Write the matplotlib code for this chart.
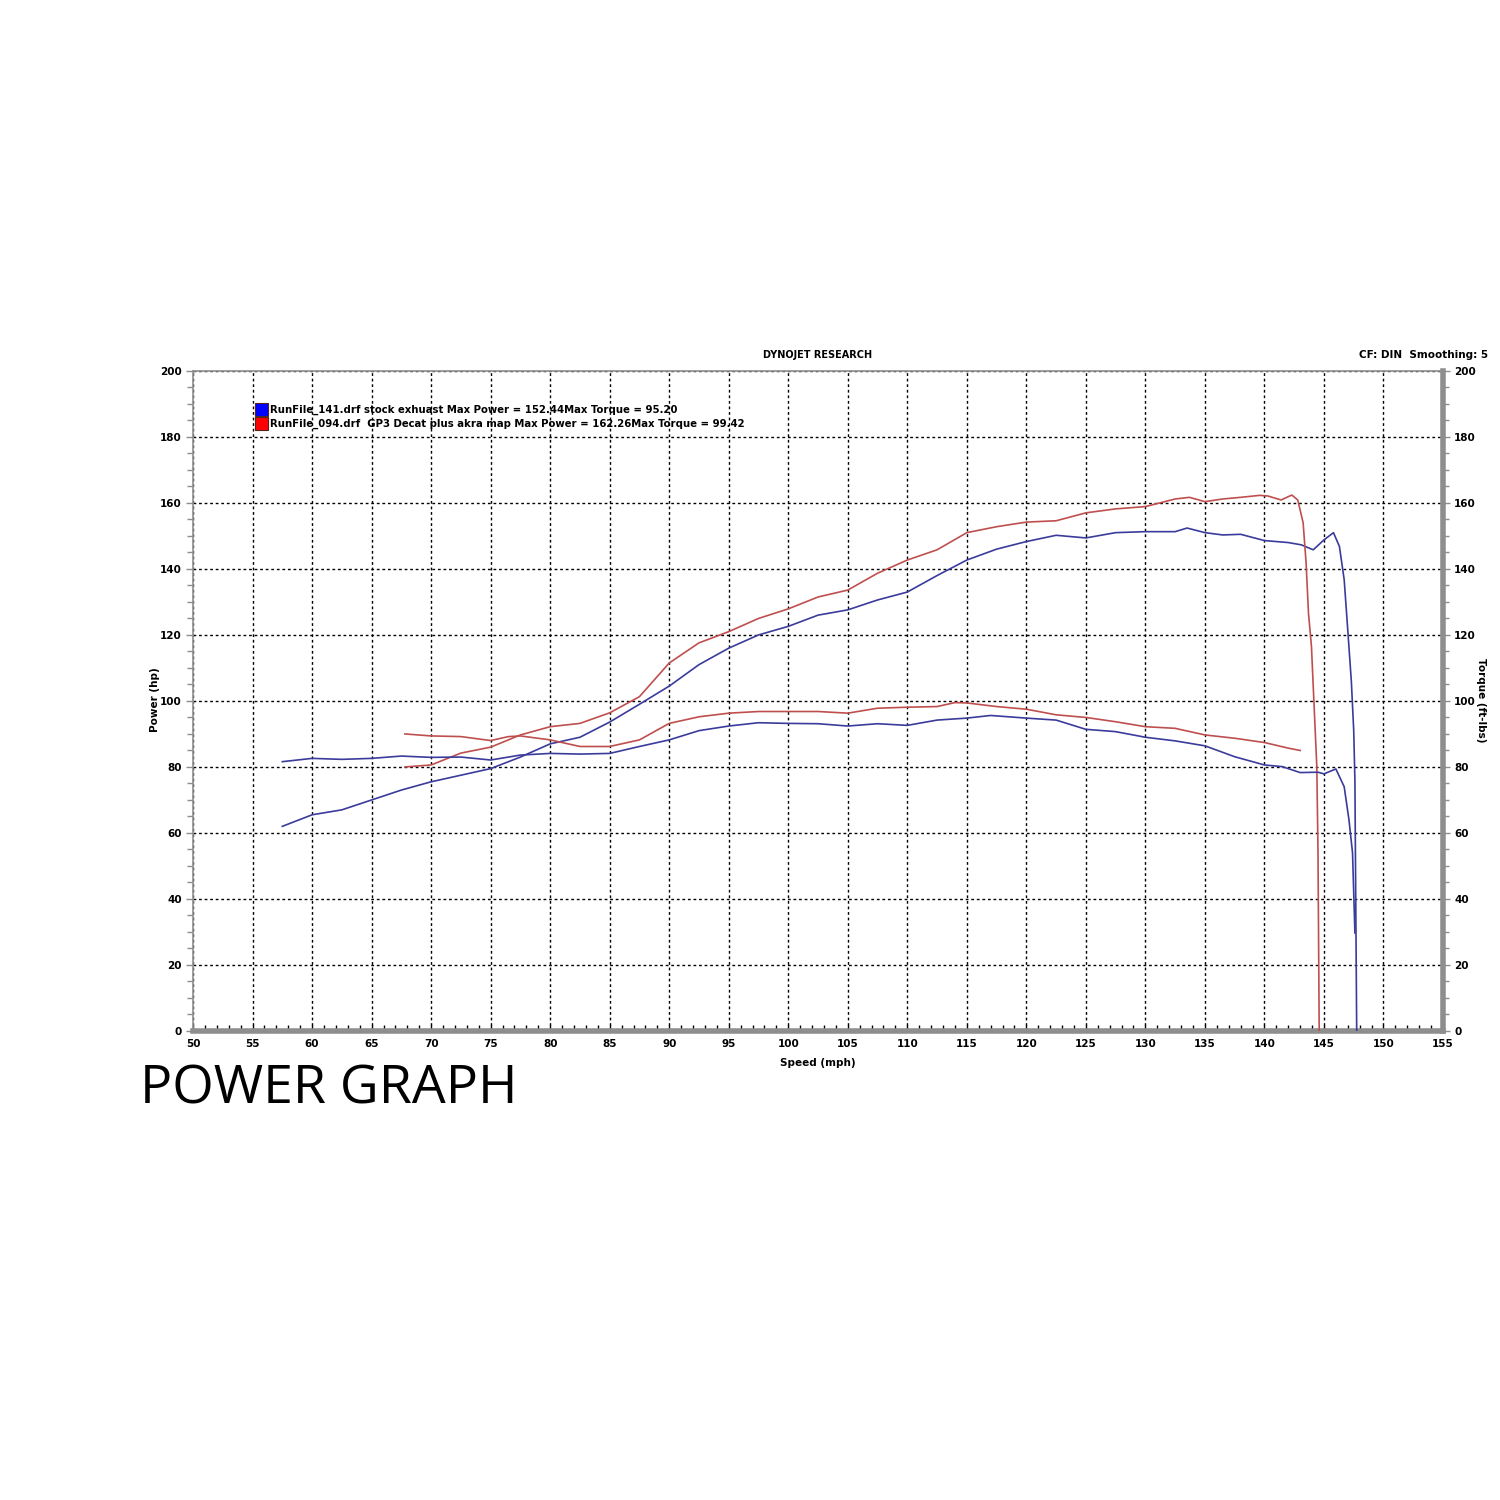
"""
Dynojet power / torque comparison: stock exhaust vs GP3 decat.
"""

import matplotlib
matplotlib.use("Agg")
import matplotlib.pyplot as plt
from matplotlib.patches import Rectangle
from matplotlib.ticker import MultipleLocator

# stock exhaust run (blue)
stock_power_mph = [57.5, 60, 62.5, 65, 67.5, 70, 72.5, 75, 77.5, 80, 82.5, 85, 87.5, 90, 92.5, 95,
                   97.5, 100, 102.5, 105, 107.5, 110, 112.5, 115, 117.5, 120, 122.5, 125, 127.5, 130,
                   132.5, 133.5, 135, 136.5, 138, 140, 142, 143.1, 144.1, 145.0, 145.8, 146.3, 146.7,
                   147.0, 147.3, 147.5, 147.6, 147.65, 147.75]
stock_power_hp = [62, 65.5, 67, 70, 73, 75.5, 77.5, 79.5, 83, 87, 89, 93.6, 99, 104.5, 111, 116,
                  120, 122.6, 126, 127.6, 130.6, 133, 138, 142.7, 146, 148.3, 150.2, 149.4, 151, 151.3,
                  151.3, 152.4, 151, 150.3, 150.5, 148.6, 148, 147.3, 145.8, 148.8, 151, 146.8, 136.7,
                  121.5, 106, 91, 76, 50, 0]

stock_torque_mph = [57.5, 60, 62.5, 65, 67.5, 70, 72.5, 75, 77.5, 80, 82.5, 85, 87.5, 90, 92.5, 95,
                    97.5, 100, 102.5, 105, 107.5, 110, 112.5, 115, 117, 120, 122.5, 125, 127.5, 130,
                    132.5, 135, 137.5, 140, 141.5, 143, 144.5, 145, 146, 146.7, 147.1, 147.4, 147.6]
stock_torque_ft = [81.6, 82.6, 82.3, 82.6, 83.3, 82.9, 83, 82.1, 83.6, 84.1, 83.9, 84.1, 86.2, 88.2,
                   91, 92.4, 93.4, 93.2, 93.1, 92.4, 93.1, 92.6, 94.2, 94.8, 95.6, 94.8, 94.2, 91.4,
                   90.7, 89, 87.9, 86.4, 83.1, 80.6, 80.1, 78.3, 78.4, 77.9, 79.4, 74, 64, 54, 29.7]

# GP3 decat + akra map run (red)
gp3_power_mph = [67.8, 70, 72.5, 75, 77.5, 80, 82.5, 85, 87.5, 90, 92.5, 95, 97.5, 100, 102.5, 105,
                 107.5, 110, 112.5, 115, 117.5, 120, 122.5, 125, 127.5, 130, 132.5, 133.7, 135, 136.5,
                 138, 139.6, 140.3, 141.4, 142.3, 142.8, 143.25, 143.5, 143.7, 143.95, 144.2, 144.4,
                 144.5, 144.6]
gp3_power_hp = [80, 80.6, 84.2, 86, 89.7, 92.2, 93.2, 96.4, 101.3, 111.5, 117.6, 121, 125, 127.9,
                131.5, 133.6, 138.7, 142.7, 145.8, 151, 152.8, 154.2, 154.6, 157, 158.2, 158.9, 161.2,
                161.7, 160.4, 161.2, 161.7, 162.3, 162.1, 160.9, 162.4, 160.9, 154, 141.8, 126.6,
                116.5, 96.3, 80, 54, 0]

gp3_torque_mph = [67.8, 70, 72.5, 75, 76.5, 77.5, 80, 82.5, 85, 87.5, 90, 92.5, 95, 97.5, 100, 102.5,
                  105, 107.5, 110, 112.5, 114, 115, 117.5, 120, 122.5, 125, 127.5, 130, 132.5, 135,
                  137.5, 140, 142, 143]
gp3_torque_ft = [90, 89.4, 89.2, 88, 89.2, 89.4, 88.2, 86.2, 86.2, 88.2, 93.2, 95.2, 96.3, 96.8, 96.8,
                 96.8, 96.3, 97.8, 98.1, 98.3, 99.5, 99.4, 98.3, 97.5, 95.8, 95, 93.7, 92.2, 91.7,
                 89.7, 88.7, 87.4, 85.7, 85]

legend_labels = ["RunFile_141.drf stock exhuast Max Power = 152.44Max Torque = 95.20",
                 "RunFile_094.drf  GP3 Decat plus akra map Max Power = 162.26Max Torque = 99.42"]

BLUE = '#3b3b9c'
RED = '#bf4f4f'
FRAME = '#8e8e8e'

plt.rcParams['font.family'] = ['DejaVu Sans']

fig = plt.figure(figsize=(15, 15), dpi=100)
fig.patch.set_facecolor('white')
ax = fig.add_axes([0.1287, 0.3127, 0.8333, 0.44])

ax.plot(stock_power_mph, stock_power_hp, color=BLUE, lw=1.2, zorder=3)
ax.plot(gp3_power_mph, gp3_power_hp, color=RED, lw=1.2, zorder=3)
ax.plot(stock_torque_mph, stock_torque_ft, color=BLUE, lw=1.2, zorder=3)
ax.plot(gp3_torque_mph, gp3_torque_ft, color=RED, lw=1.2, zorder=3)

ax.set_xlim(50, 155)
ax.set_ylim(0, 200)
ax.xaxis.set_major_locator(MultipleLocator(5))
ax.xaxis.set_minor_locator(MultipleLocator(1))
ax.yaxis.set_major_locator(MultipleLocator(20))
ax.yaxis.set_minor_locator(MultipleLocator(5))
ax.grid(True, which='major', color='black', linestyle=(0, (2, 2)), lw=1.0)

ax.tick_params(axis='x', which='both', direction='in', color='black', width=1, pad=6, length=4)
ax.tick_params(axis='y', which='both', direction='out', color=FRAME, width=1,
               right=True, labelright=True, pad=3)
ax.tick_params(axis='y', which='major', length=5)
ax.tick_params(axis='y', which='minor', length=4)
for lbl in ax.get_xticklabels() + ax.get_yticklabels():
    lbl.set_fontsize(7.5)
    lbl.set_fontweight('bold')

for side in ['left', 'top']:
    ax.spines[side].set_color(FRAME)
    ax.spines[side].set_linewidth(1.2)
for side in ['bottom', 'right']:
    ax.spines[side].set_color(FRAME)
    ax.spines[side].set_linewidth(4)

ax.set_xlabel('Speed (mph)', fontsize=7.5, fontweight='bold', labelpad=6)
fig.text(155 / 1500, 1 - 700 / 1500, 'Power (hp)', fontsize=7.5, fontweight='bold',
         rotation=90, ha='center', va='center')
fig.text(1481 / 1500, 1 - 700 / 1500, 'Torque (ft-lbs)', fontsize=7.5, fontweight='bold',
         rotation=-90, ha='center', va='center')

fig.text(0.545, 0.763, 'DYNOJET RESEARCH', fontsize=7, fontweight='bold', ha='center', va='center')
fig.text(0.992, 0.763, 'CF: DIN  Smoothing: 5', fontsize=7.5, fontweight='bold',
         ha='right', va='center')

# legend swatches
for i, (color, label) in enumerate(zip(['#0000ff', '#ff0000'], legend_labels)):
    top = 1 - (403 + i * 14) / 1500
    fig.patches.append(Rectangle((255 / 1500, top - 13 / 1500), 13 / 1500, 13 / 1500,
                                 transform=fig.transFigure, facecolor=color,
                                 edgecolor='#552222', lw=0.8, zorder=5))
    fig.text(270 / 1500, top - 6.5 / 1500, label, fontsize=7.3, fontweight='bold',
             ha='left', va='center')

fig.text(0.0933, 1 - 1103 / 1500, 'POWER GRAPH', fontsize=38.5,
         family=['Open Sans'], ha='left', va='baseline')

plt.savefig('out.png', dpi=100, facecolor='white')
plt.close(fig)
